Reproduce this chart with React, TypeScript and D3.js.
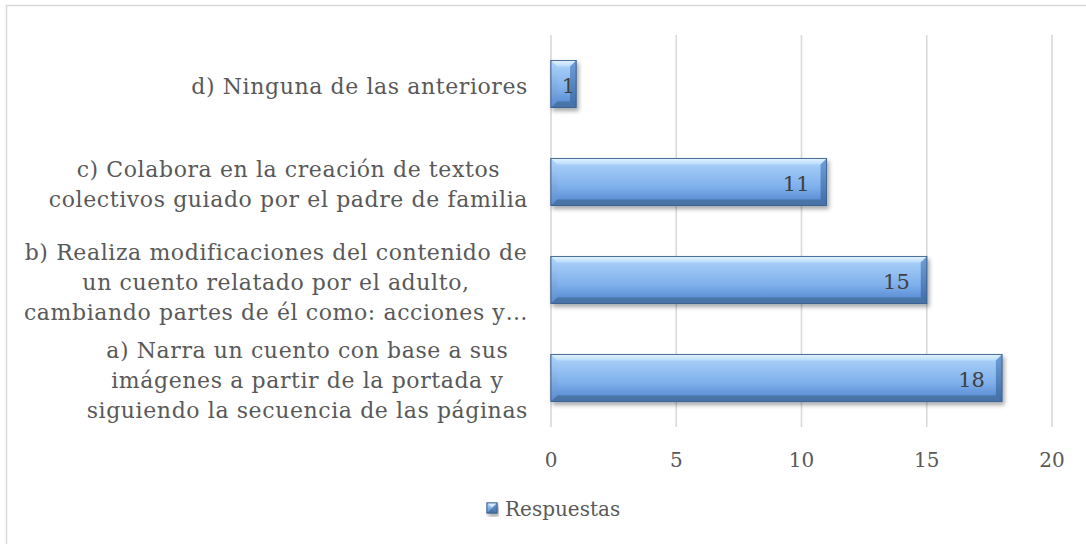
import React from "react";
import * as d3 from "d3";

const categories: string[][] = [
  ["d) Ninguna de las anteriores"],
  ["c) Colabora en la creación de textos", "colectivos guiado por el padre de familia"],
  ["b) Realiza modificaciones del contenido de", "un cuento relatado por el adulto,", "cambiando partes de él como: acciones y…"],
  ["a) Narra un cuento con base a sus", "imágenes a partir de la portada y", "siguiendo la secuencia de las páginas"],
];
const values: number[] = [1, 11, 15, 18];
const ticks: number[] = [0, 5, 10, 15, 20];
const seriesName = "Respuestas";

const W = 1086;
const H = 544;
const FONT = "'DejaVu Serif', Georgia, serif";
const FS = 20;
const CAT_FS = 22;
const CAT_LS = 0.6;
const TEXT = "#595959";

let ctx: CanvasRenderingContext2D | null = null;
function measure(s: string): number {
  if (!ctx) ctx = document.createElement("canvas").getContext("2d");
  if (!ctx) return s.length * CAT_FS * 0.6;
  ctx.font = `${CAT_FS}px 'DejaVu Serif'`;
  return ctx.measureText(s).width + CAT_LS * s.length;
}

function Bar({ x0, x1, y, h, id }: { x0: number; x1: number; y: number; h: number; id: string }) {
  const w = x1 - x0;
  const b = Math.min(6, w / 2, h / 2);
  return (
    <g filter="url(#shadow)">
      <rect x={x0} y={y} width={w} height={h} fill={`url(#body)`} stroke="#3d6395" strokeWidth={1} />
      <polygon points={`${x0},${y} ${x1},${y} ${x1 - b},${y + b} ${x0 + b},${y + b}`} fill="url(#topBevel)" />
      <polygon points={`${x0},${y + h} ${x1},${y + h} ${x1 - b},${y + h - b} ${x0 + b},${y + h - b}`} fill="#46709f" opacity={0.85} />
      <polygon points={`${x1},${y} ${x1},${y + h} ${x1 - b},${y + h - b} ${x1 - b},${y + b}`} fill="url(#rightBevel)" />
      <polygon points={`${x0},${y} ${x0},${y + h} ${x0 + b},${y + h - b} ${x0 + b},${y + b}`} fill="url(#leftBevel)" />
      <rect x={x0} y={y} width={w} height={h} fill="none" stroke="#3d6395" strokeWidth={0.8} />
      <title>{id}</title>
    </g>
  );
}

export default function App() {
  const x = d3.scaleLinear().domain([0, 20]).range([551, 1052]);
  const yb = d3
    .scaleBand<number>()
    .domain(categories.map((_, i) => i))
    .range([35, 427])
    .paddingInner(0.52)
    .paddingOuter(0.26);
  const labelRight = 528;
  const lineH = 30;

  return (
    <svg
      width={W}
      height={H}
      style={{ position: "fixed", left: 0, top: 0, background: "#fff" }}
      fontFamily={FONT}
    >
      <defs>
        <linearGradient id="body" x1="0" y1="0" x2="0" y2="1">
          <stop offset="0" stopColor="#b4d8fc" />
          <stop offset="0.2" stopColor="#9fc8f5" />
          <stop offset="0.6" stopColor="#7fb0ec" />
          <stop offset="1" stopColor="#4f82cc" />
        </linearGradient>
        <linearGradient id="topBevel" x1="0" y1="0" x2="0" y2="1">
          <stop offset="0" stopColor="#e4f3ff" />
          <stop offset="1" stopColor="#b9dcfd" />
        </linearGradient>
        <linearGradient id="rightBevel" x1="0" y1="0" x2="0" y2="1">
          <stop offset="0" stopColor="#6f9fd8" />
          <stop offset="1" stopColor="#3f6ca8" />
        </linearGradient>
        <linearGradient id="leftBevel" x1="0" y1="0" x2="0" y2="1">
          <stop offset="0" stopColor="#b0d6fb" />
          <stop offset="1" stopColor="#5a8bd0" />
        </linearGradient>
        <filter id="shadow" x="-10%" y="-30%" width="130%" height="170%">
          <feDropShadow dx="2" dy="3" stdDeviation="2" floodColor="#000" floodOpacity="0.35" />
        </filter>
      </defs>

      <rect x={6.5} y={5.5} width={1100} height={560} fill="#fff" stroke="#d9d9d9" strokeWidth={1.5} />

      {ticks.map((t) => (
        <line key={t} x1={x(t)} x2={x(t)} y1={35} y2={427} stroke="#d9d9d9" strokeWidth={1.6} />
      ))}

      {ticks.map((t) => (
        <text key={t} x={x(t)} y={460} dy="0.35em" textAnchor="middle" fontSize={FS} fill={TEXT}>
          {t}
        </text>
      ))}

      {categories.map((lines, i) => {
        const maxW = Math.max(...lines.map(measure));
        const cx = labelRight - maxW / 2;
        const cy = (yb(i) as number) + yb.bandwidth() / 2;
        return (
          <g key={i}>
            {lines.map((l, j) => (
              <text
                key={j}
                x={cx}
                y={cy + (j - (lines.length - 1) / 2) * lineH + 2}
                dy="0.35em"
                textAnchor="middle"
                fontSize={CAT_FS}
                letterSpacing={CAT_LS}
                fill={TEXT}
              >
                {l}
              </text>
            ))}
          </g>
        );
      })}

      {values.map((v, i) => {
        const y = yb(i) as number;
        const h = yb.bandwidth();
        return <Bar key={i} id={String(v)} x0={x(0)} x1={x(v)} y={y} h={h} />;
      })}

      {values.map((v, i) => {
        const y = (yb(i) as number) + yb.bandwidth() / 2;
        const end = x(v);
        const wbar = end - x(0);
        const tx = wbar > 60 ? end - 17 : end - 1;
        return (
          <text key={i} x={tx} y={y + 2} dy="0.35em" textAnchor="end" fontSize={21} fill="#404040">
            {v}
          </text>
        );
      })}

      <g>
        <Bar id="legend" x0={487} x1={497} y={503} h={10} />
        <text x={505} y={509} dy="0.35em" fontSize={FS} fill={TEXT}>
          {seriesName}
        </text>
      </g>
    </svg>
  );
}
